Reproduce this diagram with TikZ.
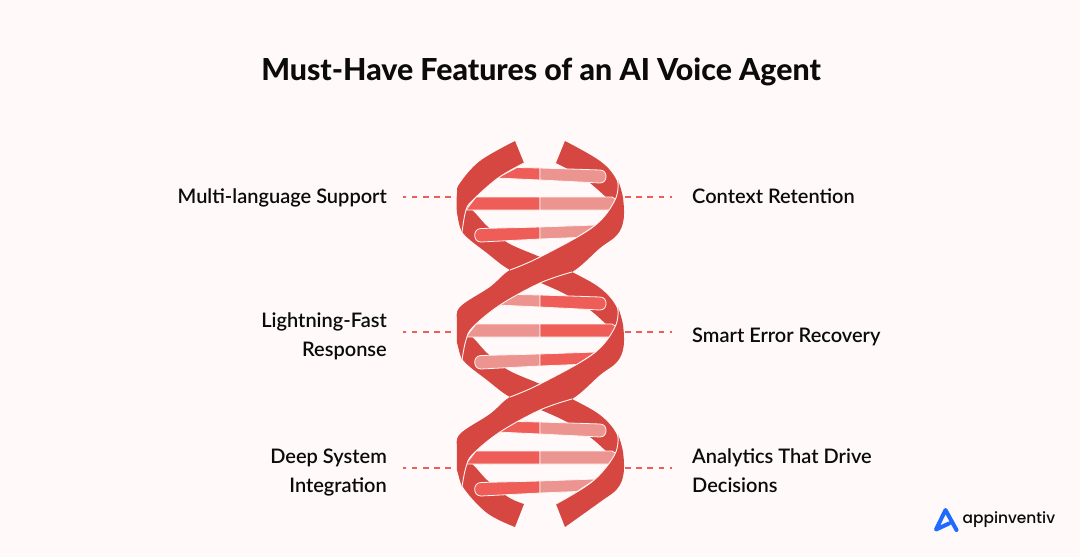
\documentclass[tikz,border=0pt]{standalone}
\usepackage{fontspec}
\setmainfont{Lato}
\newfontfamily\lblfont{Lato Semibold}
\newfontfamily\ttlfont{Lato Heavy}
\newfontfamily\logofont{Poppins Medium}
\definecolor{bgc}{HTML}{FFF9F9}
\definecolor{strand}{HTML}{D64742}
\definecolor{rungB}{HTML}{EE5D58}
\definecolor{rungP}{HTML}{EC9490}
\definecolor{edgec}{HTML}{FFF4F2}
\definecolor{blue}{HTML}{1F6BFF}
\definecolor{ink}{HTML}{0B0B0B}
\tikzset{
  strandfill/.style={fill=strand,draw=none},
  edgeline/.style={draw=edgec,line width=0.9pt},
  rungbright/.style={fill=rungB,draw=edgec,line width=0.8pt,line join=round},
  rungpale/.style={fill=rungP,draw=edgec,line width=0.8pt,line join=round},
  lbl/.style={font=\lblfont\fontsize{20}{29}\selectfont,text=ink,inner sep=0pt,align=left},
  lblr/.style={font=\lblfont\fontsize{20}{29}\selectfont,text=ink,inner sep=0pt,align=right},
  dashline/.style={draw=rungB,line width=1.7pt,dash pattern=on 5.8pt off 5.4pt},
}
% back strand running down-right (dy = vertical offset)
\newcommand{\backstrand}[1]{%
  \fill[strandfill,shift={(0,#1)}]
    plot[smooth,tension=0.6] coordinates {(458,203) (472,210) (487,226) (508,243) (540,257) (572,272) (600,288) (616,306) (620,325)}
    -- plot[smooth,tension=0.6] coordinates {(607,325) (590,310) (567,295) (541,283) (510,270) (487,253) (463,233) (458,215)} -- cycle;
}
% front strand running from the right tip to the left tip
\newcommand{\frontstrand}[1]{%
  \fill[strandfill,shift={(0,#1)}]
    plot[smooth,tension=0.6] coordinates {(618,180) (623,198) (623.5,220) (617,235) (600,248) (572,272) (540,283) (500,305) (473,327) (466,340) (462,360)}
    -- plot[smooth,tension=0.6] coordinates {(457,343) (457,323) (460,307) (490,287) (510,270) (540,257) (593,227) (615,200) (618,180)} -- cycle;
  \draw[edgeline,shift={(0,#1)}]
    plot[smooth,tension=0.6] coordinates {(618,180) (615,200) (593,227) (540,257) (510,270)};
  \draw[edgeline,shift={(0,#1)}]
    plot[smooth,tension=0.6] coordinates {(572,272) (540,283) (500,305) (473,327) (466,340) (462,360)};
}
% the three rung rows of one turn
\newcommand{\rungs}[3]{%
  \begin{scope}[shift={(0,#1)}]
    \path[#2] (497,178) -- (517,167.5) -- (540,168) -- (540,180) -- cycle;
    \path[#3] (540,168) -- (600,170) to[out=0,in=0,looseness=1.6] (600,183) -- (540,180) -- cycle;
    \path[#2] (476,197) -- (540,197) -- (540,210) -- (466,210) -- cycle;
    \path[#3] (540,197) -- (612,197) -- (617,200) -- (610,210) -- (540,210) -- cycle;
    \path[#2] (481,228.5) -- (540,227) -- (540,239) -- (481,242) to[out=180,in=180,looseness=1.6] (481,228.5) -- cycle;
    \path[#3] (540,227) -- (596,225) -- (577,237.5) -- (540,239) -- cycle;
  \end{scope}}
\begin{document}
\begin{tikzpicture}[x=1pt,y=-1pt]
\useasboundingbox (0,0) rectangle (1080,557);
\fill[bgc] (0,0) rectangle (1080,557);

\node[font=\ttlfont\fontsize{30.3}{36}\selectfont,text=ink,inner sep=0pt,anchor=center] (title) at (541,72) {Must-Have Features of an AI Voice Agent};

% back strands
\fill[strandfill] plot[smooth,tension=0.6] coordinates {(565,141) (600,161) (616,179) (620,198)}
   -- plot[smooth,tension=0.6] coordinates {(607,198) (590,183) (575,173) (556,163)} -- cycle;
\backstrand{0}
\backstrand{127}
\fill[strandfill] plot[smooth,tension=0.6] coordinates {(458,457) (472,464) (487,480) (508,497) (524,504)}
   -- (515,527) -- plot[smooth,tension=0.6] coordinates {(515,527) (487,513) (463,487) (458,469)} -- cycle;

% rungs
\rungs{0}{rungbright}{rungpale}
\rungs{127}{rungpale}{rungbright}
\rungs{254}{rungbright}{rungpale}

% front strands
\fill[strandfill] plot[smooth,tension=0.6] coordinates {(515,141) (480,161) (460,183) (457,193) (457,213) (462,232)}
   -- plot[smooth,tension=0.6] coordinates {(466,210) (473,200) (498,178) (524,163)} -- cycle;
\draw[edgeline] plot[smooth,tension=0.6] coordinates {(462,232) (466,210) (473,200) (498,178) (524,163)};
\frontstrand{0}
\frontstrand{127}
\fill[strandfill] plot[smooth,tension=0.6] coordinates {(618,434) (623,452) (623.5,474) (617,489) (600,502) (565,527)}
   -- plot[smooth,tension=0.6] coordinates {(556,504) (593,481) (615,454) (618,434)} -- cycle;
\draw[edgeline] plot[smooth,tension=0.6] coordinates {(556,504) (593,481) (615,454) (618,434)};

% labels
\node[lblr,anchor=east] (l1) at (387,198) {Multi-language Support};
\node[lblr,anchor=east] (l2) at (387,336) {Lightning-Fast\\Response};
\node[lblr,anchor=east] (l3) at (387,473) {Deep System\\Integration};
\node[lbl,anchor=west] (r1) at (692,196) {Context Retention};
\node[lbl,anchor=west] (r2) at (692,337) {Smart Error Recovery};
\node[lbl,anchor=west] (r3) at (692,471) {Analytics That Drive\\Decisions};

% dashes
\coordinate (dl1) at (451,197); \coordinate (dl2) at (451,332); \coordinate (dl3) at (451,468);
\coordinate (dr1) at (625,197); \coordinate (dr2) at (625,332); \coordinate (dr3) at (625,468);
\draw[dashline] (dl1) -- (403,197);
\draw[dashline] (dl2) -- (403,332);
\draw[dashline] (dl3) -- (403,468);
\draw[dashline] (dr1) -- (672,197);
\draw[dashline] (dr2) -- (672,332);
\draw[dashline] (dr3) -- (672,468);

% logo
\draw[blue,line width=4pt,line join=round,line cap=round]
  (949,523.5) -- (936,529.5) -- (945.5,510) -- (956.5,530);
\node[font=\logofont\fontsize{15.4}{18}\selectfont,text=ink,inner sep=0pt,anchor=base west] (logo) at (962.5,523.5) {appinventiv};
\end{tikzpicture}
\end{document}
